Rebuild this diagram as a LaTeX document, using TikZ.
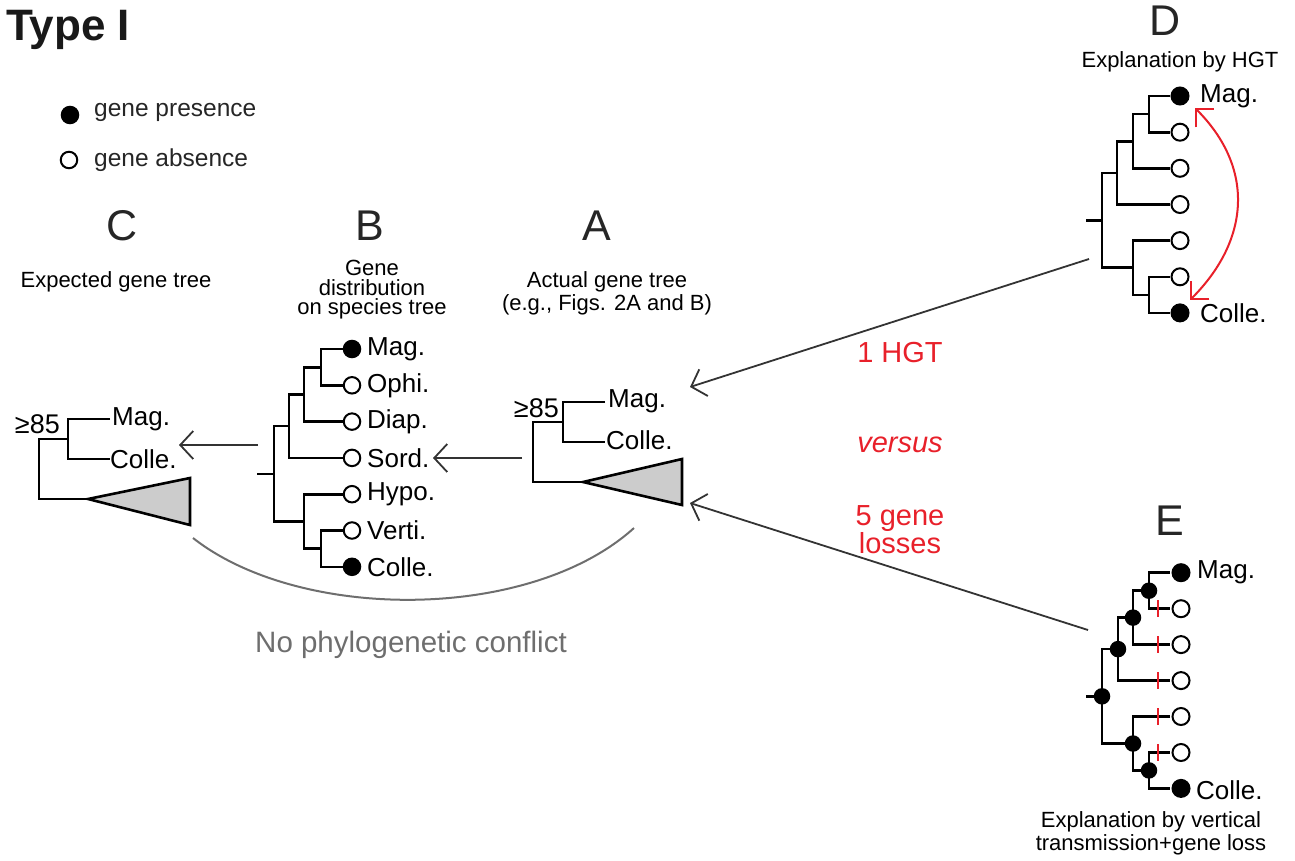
\documentclass[tikz,border=0pt]{standalone}
\usepackage{fontspec}
\setmainfont{Liberation Sans}
\usetikzlibrary{arrows.meta}
\definecolor{conngray}{HTML}{333333}
\definecolor{hgtred}{HTML}{E8202A}
\definecolor{muted}{HTML}{6E6E6E}
\definecolor{cladefill}{HTML}{CCCCCC}
\newcommand\tipfont{\fontsize{26}{30}\selectfont}
\newcommand\capfont{\fontsize{22}{23}\selectfont}
\newcommand\letfont{\fontsize{43}{46}\selectfont}
\newcommand\redfont{\fontsize{29}{27}\selectfont}

\begin{document}
\begin{tikzpicture}[x=1pt,y=-1pt,
  br/.style={draw=black, line width=2.6, line join=miter},
  pres/.style={circle, draw=black, fill=black, line width=2, minimum size=16.5, inner sep=0},
  abs/.style={circle, draw=black, fill=white, line width=2, minimum size=16.5, inner sep=0},
  presD/.style={pres, minimum size=17},
  absD/.style={abs, minimum size=17},
  inner/.style={circle, fill=black, minimum size=16.5, inner sep=0},
  tip/.style={anchor=west, inner sep=0, font=\tipfont},
  capt/.style={align=center, inner sep=0, font=\capfont},
  letter/.style={inner sep=0, font=\letfont, text=black!85},
  redtxt/.style={align=center, inner sep=0, font=\redfont, text=hgtred},
  arr/.style={draw=conngray, line width=1.8, -{Straight Barb[length=13, width=28, line width=1.8]}},
  loss/.style={draw=hgtred, line width=2.5},
  clade/.style={draw=black, line width=2.6, fill=cladefill, line join=miter}]

\useasboundingbox (0,0) rectangle (1295,860);

% ---------- title and legend ----------
\node[anchor=west, inner sep=0, font=\fontsize{44}{48}\selectfont\bfseries, text=black!90] (title) at (6,30) {Type I};
\node[pres] (legP) at (70,115) {};
\node[tip, font=\fontsize{24.5}{28}\selectfont, text=black!85] (legPt) at (94,112) {gene presence};
\node[abs] (legA) at (69,160) {};
\node[tip, font=\fontsize{24.5}{28}\selectfont, text=black!85] (legAt) at (94,160) {gene absence};

% ---------- column headings ----------
\node[letter] (letC) at (122,226) {C};
\node[letter] (letB) at (370,226) {B};
\node[letter] (letA) at (597,226) {A};
\node[letter] (letD) at (1165,21) {D};
\node[letter] (letE) at (1170,521) {E};

\node[capt] (capC) at (116,282) {Expected gene tree};
\node[capt, font=\fontsize{22}{19.5}\selectfont] (capB) at (372,290) {Gene\\distribution\\on species tree};
\node[capt] (capA) at (607,293) {Actual gene tree\\(e.g., Figs. 2A and B)};
\node[capt] (capD) at (1180,62) {Explanation by HGT};
\node[capt] (capE) at (1151,833) {Explanation by vertical\\transmission+gene loss};

% ---------- C: expected gene tree ----------
\draw[br] (110,419) -- (68,419) -- (68,459) -- (110,459);
\draw[br] (68,439) -- (39,439) -- (39,499) -- (88,499);
\draw[clade] (88,499) -- (190,478) -- (190,525) -- cycle;
\node[tip] (cMag) at (112,419) {Mag.};
\node[tip] (cColle) at (110,459) {Colle.};
\node[anchor=east, inner sep=0, font=\fontsize{27}{30}\selectfont] (cSup) at (60,424) {≥85};

% ---------- B: gene distribution on species tree ----------
\draw[br] (343,349) -- (321,349) -- (321,385.3) -- (343,385.3);
\draw[br] (321,367.2) -- (304,367.2) -- (304,421.6) -- (343,421.6);
\draw[br] (304,394.4) -- (289,394.4) -- (289,457.9) -- (343,457.9);
\draw[br] (343,530.5) -- (321,530.5) -- (321,566.8) -- (343,566.8);
\draw[br] (321,548.7) -- (304,548.7) -- (304,494.2) -- (343,494.2);
\draw[br] (289,426.1) -- (274,426.1) -- (274,521.4) -- (304,521.4);
\draw[br] (274,473.8) -- (257,473.8);
\node[pres] (bMag) at (352,349) {};
\node[abs] (bOphi) at (352,385.3) {};
\node[abs] (bDiap) at (352,421.6) {};
\node[abs] (bSord) at (352,457.9) {};
\node[abs] (bHypo) at (352,494.2) {};
\node[abs] (bVerti) at (352,530.5) {};
\node[pres] (bColle) at (352,566.8) {};
\node[tip] (bMagT) at (367,349) {Mag.};
\node[tip] (bOphiT) at (367,385.3) {Ophi.};
\node[tip] (bDiapT) at (367,421.6) {Diap.};
\node[tip] (bSordT) at (367,457.9) {Sord.};
\node[tip] (bHypoT) at (367,494.2) {Hypo.};
\node[tip] (bVertiT) at (367,530.5) {Verti.};
\node[tip] (bColleT) at (367,566.8) {Colle.};

% ---------- A: actual gene tree ----------
\draw[br] (605,402) -- (563,402) -- (563,442) -- (605,442);
\draw[br] (563,422) -- (533,422) -- (533,482) -- (583,482);
\draw[clade] (583,482) -- (682,459) -- (682,505) -- cycle;
\node[tip] (aMag) at (608,401) {Mag.};
\node[tip] (aColle) at (606,440) {Colle.};
\node[anchor=east, inner sep=0, font=\fontsize{27}{30}\selectfont] (aSup) at (559,408) {≥85};

% ---------- D: explanation by HGT ----------
\draw[br] (1170,96) -- (1149,96) -- (1149,132.2) -- (1170,132.2);
\draw[br] (1149,114.1) -- (1133,114.1) -- (1133,168.3) -- (1170,168.3);
\draw[br] (1133,141.2) -- (1117,141.2) -- (1117,204.5) -- (1170,204.5);
\draw[br] (1170,276.8) -- (1149,276.8) -- (1149,312.9) -- (1170,312.9);
\draw[br] (1149,294.8) -- (1133,294.8) -- (1133,240.6) -- (1170,240.6);
\draw[br] (1117,172.8) -- (1102,172.8) -- (1102,267.7) -- (1133,267.7);
\draw[br] (1102,220.3) -- (1086,220.3);
\node[presD] (dL1) at (1180,96) {};
\node[absD] (dL2) at (1180,132.2) {};
\node[absD] (dL3) at (1180,168.3) {};
\node[absD] (dL4) at (1180,204.5) {};
\node[absD] (dL5) at (1180,240.6) {};
\node[absD] (dL6) at (1180,276.8) {};
\node[presD] (dL7) at (1180,312.9) {};
\node[tip] (dMag) at (1200,96) {Mag.};
\node[tip] (dColle) at (1200,313) {Colle.};
\coordinate (hgtTop) at (1195,108);
\coordinate (hgtBot) at (1190,300);
\draw[draw=hgtred, line width=2, {Straight Barb[length=13, width=26, line width=2]}-{Straight Barb[length=13, width=26, line width=2]}]
  (hgtTop) .. controls (1255,168) and (1250,240) .. (hgtBot);

% ---------- E: explanation by vertical transmission + gene loss ----------
\draw[br] (1170,572.7) -- (1149,572.7) -- (1149,608.7) -- (1170,608.7);
\draw[br] (1149,590.7) -- (1133,590.7) -- (1133,644.6) -- (1170,644.6);
\draw[br] (1133,617.6) -- (1118,617.6) -- (1118,680.6) -- (1170,680.6);
\draw[br] (1170,752.5) -- (1149,752.5) -- (1149,788.4) -- (1170,788.4);
\draw[br] (1149,770.4) -- (1133,770.4) -- (1133,716.5) -- (1170,716.5);
\draw[br] (1118,649.1) -- (1102,649.1) -- (1102,743.5) -- (1133,743.5);
\draw[br] (1102,696.3) -- (1086,696.3);
\node[inner] (eN1) at (1149,590.7) {};
\node[inner] (eN2) at (1133,617.6) {};
\node[inner] (eN3) at (1118,649.1) {};
\node[inner] (eN4) at (1102,696.3) {};
\node[inner] (eN5) at (1133,743.5) {};
\node[inner] (eN6) at (1149,770.4) {};
\foreach \yy in {608.7,644.6,680.6,716.5,752.5}
  \draw[loss] (1158,\yy-8.5) -- (1158,\yy+8.5);
\node[presD] (eL1) at (1181,572.7) {};
\node[absD] (eL2) at (1181,608.7) {};
\node[absD] (eL3) at (1181,644.6) {};
\node[absD] (eL4) at (1181,680.6) {};
\node[absD] (eL5) at (1181,716.5) {};
\node[absD] (eL6) at (1181,752.5) {};
\node[presD] (eL7) at (1181,788.4) {};
\node[tip] (eMag) at (1197,572.7) {Mag.};
\node[tip] (eColle) at (1196,790) {Colle.};

% ---------- connectors between trees ----------
\coordinate (bOut) at (258,445);
\coordinate (cIn) at (179,445);
\coordinate (aOut) at (522,458);
\coordinate (bIn) at (433,458);
\coordinate (dOut) at (1089,259);
\coordinate (aInTop) at (690,387);
\coordinate (eOut) at (1088,630);
\coordinate (aInBot) at (690,503);
\draw[arr] (bOut) -- (cIn);
\draw[arr] (aOut) -- (bIn);
\draw[arr] (dOut) -- (aInTop);
\draw[arr] (eOut) -- (aInBot);

\node[redtxt] (hgtTxt) at (900,353) {1 HGT};
\node[redtxt, font=\redfont\itshape] (vsTxt) at (900,445) {versus};
\node[redtxt] (lossTxt) at (900,530) {5 gene\\losses};

% ---------- agreement between C and A ----------
\coordinate (arcL) at (193,538);
\coordinate (arcR) at (634,528);
\draw[draw=muted, line width=2] (arcL) .. controls (300,622) and (530,622) .. (arcR);
\node[inner sep=0, font=\fontsize{29.5}{32}\selectfont, text=muted] (noConf) at (411,645) {No phylogenetic conflict};

\end{tikzpicture}
\end{document}
